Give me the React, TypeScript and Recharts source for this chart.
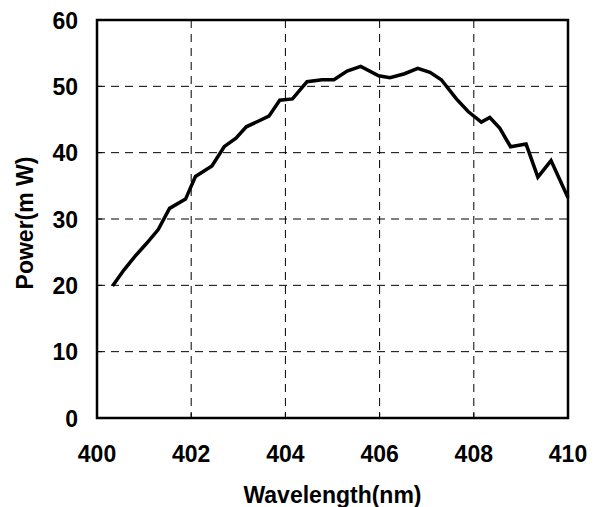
import React from 'react';
import { LineChart, Line, XAxis, YAxis, CartesianGrid, ReferenceArea } from 'recharts';

const wavelengths = [400.33, 400.57, 400.81, 401.05, 401.3, 401.54, 401.88, 402.09, 402.44, 402.7, 402.95, 403.17, 403.41, 403.65, 403.88, 404.15, 404.46, 404.78, 405.03, 405.31, 405.6, 405.98, 406.22, 406.53, 406.81, 407.07, 407.31, 407.63, 407.88, 408.16, 408.34, 408.55, 408.78, 409.11, 409.36, 409.64, 410.0];
const powers = [19.9, 22.3, 24.4, 26.3, 28.4, 31.6, 33.0, 36.4, 38.0, 40.9, 42.2, 43.9, 44.7, 45.5, 47.9, 48.1, 50.7, 51.0, 51.0, 52.3, 53.0, 51.6, 51.3, 51.9, 52.7, 52.1, 51.0, 48.1, 46.2, 44.6, 45.3, 43.7, 40.9, 41.3, 36.3, 38.8, 33.2];
const xTicks = [400, 402, 404, 406, 408, 410];
const yTicks = [0, 10, 20, 30, 40, 50, 60];

const data = wavelengths.map((wl, i) => ({ wl, power: powers[i] }));

const FONT = '"Liberation Sans", Arial, sans-serif';
const FS = 23;

const XTick = (props: any) => {
  const { x, y, payload } = props;
  return (
    <g>
      <line x1={x} y1={y} x2={x} y2={y - 5} stroke="#000" strokeWidth={1} />
      <text x={x} y={y + 44} textAnchor="middle" fontFamily={FONT} fontWeight="bold" fontSize={FS} fill="#000">
        {payload.value}
      </text>
    </g>
  );
};

const YTick = (props: any) => {
  const { x, y, payload } = props;
  return (
    <g>
      <line x1={x} y1={y} x2={x + 5} y2={y} stroke="#000" strokeWidth={1} />
      <text x={x - 19} y={y + 8.5} textAnchor="end" fontFamily={FONT} fontWeight="bold" fontSize={FS} fill="#000">
        {payload.value}
      </text>
    </g>
  );
};

export default function App() {
  return (
    <div style={{ position: 'absolute', left: 0, top: 0, width: 600, height: 507, background: '#fff' }}>
      <LineChart width={600} height={507} data={data} margin={{ top: 20, right: 32, left: 0, bottom: 0 }}>
        <CartesianGrid stroke="#000" strokeWidth={1} strokeDasharray="8 6" />
        <XAxis
          dataKey="wl"
          type="number"
          domain={[400, 410]}
          ticks={xTicks}
          height={89}
          tickSize={0}
          tickMargin={0}
          tick={<XTick />}
          axisLine={false}
          tickLine={false}
          interval={0}
          label={{
            content: (p: any) => {
              const vb = p.viewBox || { x: 97, y: 418, width: 471, height: 89 };
              return (
                <text x={vb.x + vb.width / 2} y={503} textAnchor="middle" fontFamily={FONT} fontWeight="bold" fontSize={FS} fill="#000">
                  Wavelength(nm)
                </text>
              );
            },
          }}
        />
        <YAxis
          type="number"
          domain={[0, 60]}
          ticks={yTicks}
          width={97}
          tickSize={0}
          tickMargin={0}
          tick={<YTick />}
          axisLine={false}
          tickLine={false}
          interval={0}
          label={{
            content: (p: any) => {
              const cy = 223;
              const cx = 32.5;
              return (
                <text x={cx} y={cy} transform={`rotate(-90 ${cx} ${cy})`} textAnchor="middle" fontFamily={FONT} fontWeight="bold" fontSize={FS} fill="#000">
                  Power(m W)
                </text>
              );
            },
          }}
        />
        <Line type="linear" dataKey="power" stroke="#000" strokeWidth={3.5} dot={false} isAnimationActive={false} />
        <ReferenceArea x1={400} x2={410} y1={0} y2={60} fill="none" stroke="#000" strokeWidth={2.5} ifOverflow="visible" />
      </LineChart>
    </div>
  );
}
